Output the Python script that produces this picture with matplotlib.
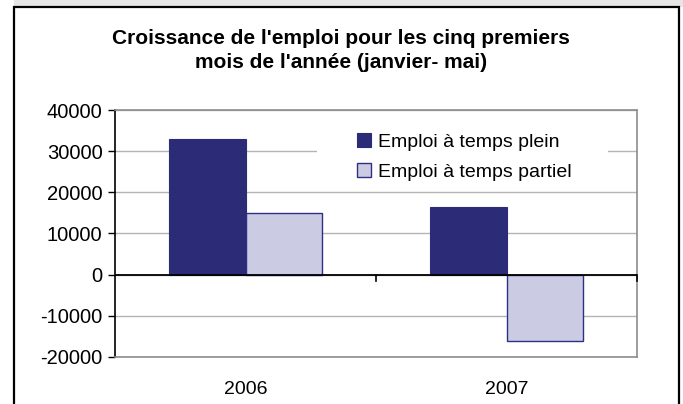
import matplotlib
matplotlib.use("Agg")
import matplotlib.pyplot as plt
from matplotlib.patches import Rectangle
import matplotlib.transforms as mtransforms

plt.rcParams['font.family'] = ['Liberation Sans', 'DejaVu Sans']

categories = ["2006", "2007"]
series_names = ["Emploi à temps plein", "Emploi à temps partiel"]
temps_plein = [33000, 16400]
temps_partiel = [15000, -16000]
yticks = [-20000, -10000, 0, 10000, 20000, 30000, 40000]
title_lines = ["Croissance de l'emploi pour les cinq premiers",
               "mois de l'année (janvier- mai)"]

W, H = 683, 404
fig = plt.figure(figsize=(W / 100, H / 100), dpi=100)
fig.patch.set_facecolor("white")

# outer decorations: gray band on top and black frame
fig.add_artist(Rectangle((14 / W, (H - 7) / H), (W - 14) / W, 7 / H,
                         transform=fig.transFigure, facecolor="#e6e6e6",
                         edgecolor="none", zorder=0))
fig.add_artist(Rectangle((14 / W, -0.1), (679 - 14) / W, (H - 7) / H + 0.1,
                         transform=fig.transFigure, facecolor="white",
                         edgecolor="black", linewidth=1.6, zorder=0))

left, right, top, bottom = 115, 637, 110, 357
ax = fig.add_axes([left / W, (H - bottom) / H, (right - left) / W, (bottom - top) / H])
ax.set_facecolor("white")

dark = "#2b2b78"
light = "#cbcbe4"
edge = "#2f2f85"
bw = 0.295
x = list(range(len(categories)))
ax.bar([i - bw / 2 for i in x], temps_plein, width=bw, color=dark,
       edgecolor=dark, linewidth=0.8, label=series_names[0], zorder=3)
ax.bar([i + bw / 2 for i in x], temps_partiel, width=bw, color=light,
       edgecolor=edge, linewidth=1.0, label=series_names[1], zorder=3)

ax.set_xlim(-0.5, len(categories) - 0.5)
ax.set_ylim(-20000, 40000)
ax.set_yticks(yticks)
ax.set_yticklabels([str(v) for v in yticks], fontsize=14.5)
ax.yaxis.grid(True, color="#b4b4b4", linewidth=1.0, zorder=0)
ax.set_axisbelow(True)
ax.tick_params(axis="y", length=5, width=1.0, color="black", pad=4)

ax.set_xticks(x)
ax.set_xticklabels(categories, fontsize=14)
ax.tick_params(axis="x", length=0, pad=17)

for s in ["top", "right", "bottom"]:
    ax.spines[s].set_color("#8c8c8c")
    ax.spines[s].set_linewidth(1.2)
ax.spines["left"].set_color("black")
ax.spines["left"].set_linewidth(1.2)

ax.axhline(0, color="black", linewidth=1.3, zorder=4)
trans = mtransforms.blended_transform_factory(ax.transData, ax.transAxes)
zero_ax = (0 - (-20000)) / 60000
for b in [i + 0.5 for i in x]:
    ax.plot([b, b], [zero_ax, zero_ax - 0.025], color="black", lw=1.2,
            transform=trans, clip_on=False, zorder=4)

# legend background (white box hiding gridline)
ax.add_patch(Rectangle((0.387, 0.676), 0.944 - 0.387, 0.968 - 0.676,
                       transform=ax.transAxes, facecolor="white",
                       edgecolor="none", zorder=2))
leg = ax.legend(loc="center left", bbox_to_anchor=(0.4636, 0.81),
                frameon=False, fontsize=14, handlelength=0.7,
                handleheight=0.7, handletextpad=0.4, borderpad=0,
                borderaxespad=0, labelspacing=0.62)

fig.text(341 / W, 1 - 39 / H, title_lines[0], ha="center", va="center",
         fontsize=15, fontweight="bold")
fig.text(341 / W, 1 - 63 / H, title_lines[1], ha="center", va="center",
         fontsize=15, fontweight="bold")

fig.savefig("out.png", dpi=100)
